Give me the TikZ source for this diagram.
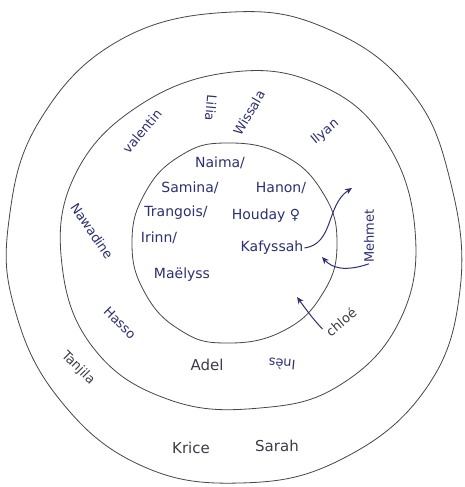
\documentclass[tikz,border=0pt]{standalone}
\usepackage{fontspec}
\setmainfont{DejaVu Sans}
\usetikzlibrary{arrows.meta}
\definecolor{ink}{RGB}{45,48,115}
\definecolor{pencil}{RGB}{60,60,72}
\definecolor{ring}{RGB}{70,70,70}
\begin{document}
\begin{tikzpicture}[x=1pt,y=-1pt,
  pname/.style={font=\fontsize{14}{16}\selectfont, text=ink, inner sep=1pt},
  bname/.style={pname, font=\fontsize{13}{15}\selectfont},
  gname/.style={pname, text=pencil, font=\fontsize{15}{17}\selectfont},
  ringline/.style={draw=ring, line width=0.8pt},
  inkarrow/.style={draw=ink, line width=1pt, -{Stealth[length=7pt,width=6pt]}}]
\useasboundingbox (0,0) rectangle (464,487);
\fill[white] (0,0) rectangle (464,487);
% rings
\draw[ringline] plot[smooth cycle, tension=0.7] coordinates {
 (233,12) (330,30) (410,90) (450,180) (460,290) (425,390) (340,460)
 (240,483) (140,465) (60,400) (15,310) (9,220) (40,120) (120,40)};
\draw[ringline] plot[smooth cycle, tension=0.7] coordinates {
 (233,72) (320,85) (385,140) (415,230) (400,320) (340,385) (260,408)
 (170,400) (95,350) (62,265) (75,175) (140,105)};
\draw[ringline] plot[smooth cycle, tension=0.75] coordinates {
 (337,243) (323,193) (283,155) (226,143) (180,156) (145,193)
 (132,243) (145,293) (180,330) (225,343) (283,331) (323,293)};
% inner names
\node[pname] (nai) at (220,163) {Naima/};
\node[pname] (sam) at (190,188) {Samina/};
\node[pname] (han) at (281,188) {Hanon/};
\node[pname] (fra) at (176,213) {Trangois/};
\node[pname] (hou) at (266,216) {Houday ♀};
\node[pname] (iri) at (159,238) {Irinn/};
\node[pname] (kaf) at (272,248) {Kafyssah};
\node[pname] (mae) at (182,275) {Maëlyss};
% middle band
\node[bname, rotate=50] (val) at (142,131) {valentin};
\node[bname, rotate=-95] (lil) at (211,108) {Lilia};
\node[bname, rotate=60] (wis) at (249,113) {Wissala};
\node[bname, rotate=40] (ily) at (325,132) {Ilyan};
\node[bname, rotate=90] (meh) at (369,236) {Mehmet};
\node[gname, rotate=40, font=\fontsize{13}{15}\selectfont] (chl) at (341,322) {chloé};
\node[bname, rotate=-56] (naw) at (92,231) {Nawadine};
\node[bname, rotate=-45] (has) at (120,323) {Hasso};
\node[gname] (ade) at (207,365) {Adel};
\node[bname, rotate=175] (ine) at (282,364) {Inès};
% outer band
\node[gname, rotate=-45, font=\fontsize{13}{15}\selectfont] (tan) at (78,368) {Tanjila};
\node[gname] (kri) at (191,448) {Krice};
\node[gname] (sar) at (277,446) {Sarah};
% arrows
\coordinate (a1) at (352,188);
\coordinate (a2) at (322,257);
\coordinate (a3) at (297,297);
\draw[inkarrow] (kaf.east) .. controls (334,244) and (326,205) .. (a1);
\draw[inkarrow] (meh.west) .. controls (345,272) and (332,268) .. (a2);
\draw[inkarrow] (chl.north west) .. controls (312,318) and (305,308) .. (a3);
\end{tikzpicture}
\end{document}
